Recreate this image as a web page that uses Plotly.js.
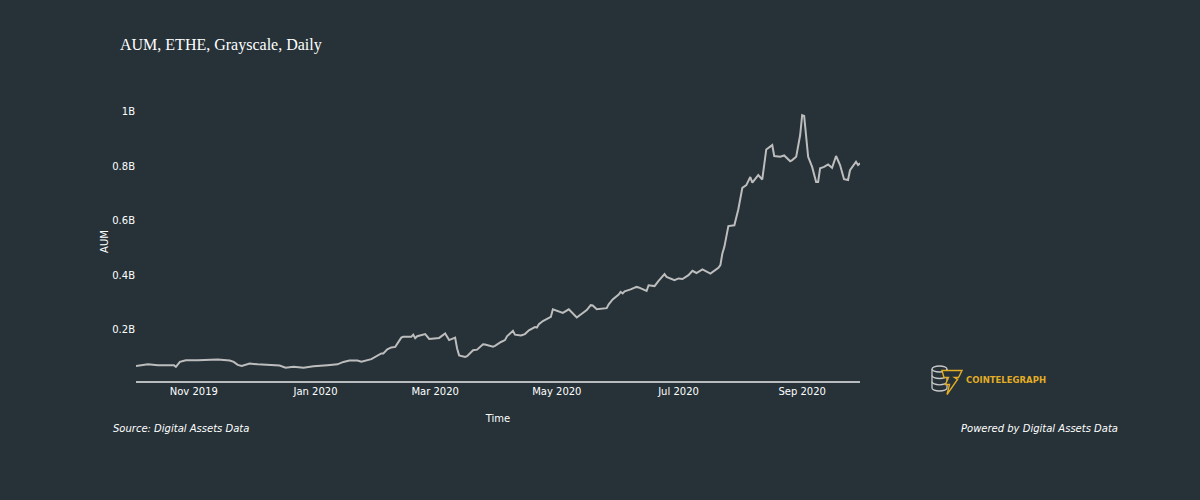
<!DOCTYPE html>
<html>
<head>
<meta charset="utf-8">
<script src="https://cdn.plot.ly/plotly-3.0.1.min.js"></script>
<style>html,body{margin:0;padding:0;background:#263238;}#chart{width:1200px;height:500px;}</style>
</head>
<body>
<div id="chart"></div>
<script>
var dates = [
"2019-10-03","2019-10-09","2019-10-14","2019-10-19","2019-10-22","2019-10-23","2019-10-25","2019-10-28",
"2019-11-03","2019-11-13","2019-11-19","2019-11-21","2019-11-23","2019-11-25","2019-11-29",
"2019-12-03","2019-12-10","2019-12-14","2019-12-17","2019-12-21","2019-12-26","2019-12-31",
"2020-01-07","2020-01-12","2020-01-15","2020-01-18","2020-01-22","2020-01-24","2020-01-29","2020-01-31",
"2020-02-03","2020-02-04","2020-02-06","2020-02-08","2020-02-10","2020-02-13","2020-02-14","2020-02-18",
"2020-02-19","2020-02-20","2020-02-21","2020-02-25","2020-02-27",
"2020-03-03","2020-03-06","2020-03-08","2020-03-11","2020-03-12","2020-03-13","2020-03-16","2020-03-17",
"2020-03-20","2020-03-22","2020-03-25","2020-03-26","2020-03-30","2020-03-31",
"2020-04-03","2020-04-05","2020-04-06","2020-04-09","2020-04-10","2020-04-13","2020-04-15","2020-04-17",
"2020-04-20","2020-04-21","2020-04-22","2020-04-24","2020-04-28","2020-04-29",
"2020-05-04","2020-05-07","2020-05-11","2020-05-12","2020-05-16","2020-05-18","2020-05-19","2020-05-21",
"2020-05-26","2020-05-27","2020-05-29",
"2020-06-01","2020-06-02","2020-06-03","2020-06-04","2020-06-07","2020-06-10","2020-06-11","2020-06-15",
"2020-06-16","2020-06-19","2020-06-21","2020-06-24","2020-06-25","2020-06-29",
"2020-07-01","2020-07-03","2020-07-06","2020-07-08","2020-07-10","2020-07-13","2020-07-17","2020-07-21",
"2020-07-22","2020-07-23","2020-07-24","2020-07-26","2020-07-29","2020-07-31",
"2020-08-02","2020-08-04","2020-08-06","2020-08-07","2020-08-10","2020-08-12","2020-08-14","2020-08-17",
"2020-08-18","2020-08-21","2020-08-23","2020-08-26","2020-08-27","2020-08-29","2020-08-31",
"2020-09-01","2020-09-02","2020-09-04","2020-09-06","2020-09-08","2020-09-09","2020-09-10","2020-09-12",
"2020-09-14","2020-09-16","2020-09-18","2020-09-20","2020-09-22","2020-09-24","2020-09-25","2020-09-28",
"2020-09-29","2020-09-30"
];
var aumBillions = [
0.067,0.073,0.070,0.069,0.070,0.064,0.082,0.088,
0.088,0.091,0.087,0.082,0.071,0.067,0.076,
0.073,0.072,0.069,0.061,0.064,0.061,0.066,
0.070,0.073,0.082,0.087,0.087,0.083,0.092,0.100,
0.113,0.113,0.128,0.135,0.137,0.171,0.174,0.174,
0.182,0.169,0.176,0.184,0.166,
0.170,0.186,0.162,0.171,0.131,0.106,0.100,0.103,
0.125,0.127,0.147,0.146,0.138,0.141,
0.155,0.162,0.176,0.196,0.182,0.179,0.184,0.198,
0.210,0.208,0.220,0.232,0.247,0.275,
0.262,0.275,0.245,0.250,0.272,0.290,0.289,0.275,
0.279,0.293,0.311,
0.329,0.339,0.333,0.341,0.348,0.357,0.355,0.342,
0.363,0.360,0.379,0.404,0.394,0.382,
0.388,0.386,0.400,0.416,0.408,0.421,0.406,0.427,
0.437,0.480,0.504,0.580,0.583,0.642,
0.720,0.730,0.760,0.739,0.767,0.751,0.861,0.877,
0.837,0.834,0.839,0.818,0.822,0.834,0.914,
0.987,0.984,0.834,0.797,0.742,0.742,0.792,0.797,
0.806,0.794,0.837,0.804,0.752,0.749,0.785,0.816,
0.804,0.810
];
var titleText = "AUM, ETHE, Grayscale, Daily";
var xTitle = "Time";
var yTitle = "AUM";
var sourceText = "Source: Digital Assets Data";
var poweredText = "Powered by Digital Assets Data";
var brandText = "COINTELEGRAPH";

var bg = "#263238";
var tickFont = {family: "DejaVu Sans, Verdana, sans-serif", size: 10, color: "#ffffff"};

var logoSvg = '<svg xmlns="http://www.w3.org/2000/svg" viewBox="0 0 32 30" width="32" height="30">' +
  '<g fill="none" stroke="#c8c8c8" stroke-width="1.3">' +
  '<ellipse cx="8.5" cy="4" rx="7.5" ry="3"/>' +
  '<path d="M1 4 V23 A7.5 3 0 0 0 16 23 V4"/>' +
  '<path d="M1 10.5 A7.5 3 0 0 0 16 10.5"/>' +
  '<path d="M1 16.8 A7.5 3 0 0 0 16 16.8"/>' +
  '</g>' +
  '<path d="M11 5.5 L31 5.5 L27.5 12.5 L23.5 12.5 L26.5 14.5 L16 29.5 L18.5 19.5 L14.5 19.5 L17.5 12.5 L13 12.5 Z" fill="' + bg + '" stroke="#e3ac25" stroke-width="1.4" stroke-linejoin="miter"/>' +
  '</svg>';
var logoSrc = "data:image/svg+xml;base64," + btoa(logoSvg);

var plotL = 136, plotR = 860, plotT = 102, plotB = 381;
var pw = plotR - plotL, ph = plotB - plotT;
function px(x) { return (x - plotL) / pw; }
function py(y) { return (plotB - y) / ph; }

var trace = {
  x: dates,
  y: aumBillions,
  type: "scatter",
  mode: "lines",
  line: {color: "#bdbdbd", width: 2},
  hoverinfo: "x+y"
};

var layout = {
  width: 1200,
  height: 500,
  paper_bgcolor: bg,
  plot_bgcolor: bg,
  margin: {l: plotL, r: 1200 - plotR, t: plotT, b: 500 - plotB, pad: 0},
  showlegend: false,
  font: tickFont,
  title: {
    text: titleText,
    x: 120 / 1200, xref: "container", xanchor: "left",
    y: 1 - 44 / 500, yref: "container", yanchor: "middle",
    font: {family: "Liberation Serif, Times New Roman, serif", size: 16, color: "#ffffff"}
  },
  xaxis: {
    type: "date",
    range: ["2019-10-03", "2020-09-30"],
    tick0: "2019-11-01",
    dtick: "M2",
    tickformat: "%b %Y",
    showgrid: false,
    zeroline: false,
    showline: true,
    linecolor: "#b9bcbe",
    linewidth: 1.5,
    ticks: "",
    tickfont: tickFont,
    title: {text: xTitle, font: tickFont, standoff: 19}
  },
  yaxis: {
    range: [0.012, 1.035],
    tick0: 0,
    dtick: 0.2,
    ticksuffix: "B",
    showgrid: false,
    zeroline: false,
    showline: false,
    ticks: "",
    tickfont: tickFont,
    title: {text: yTitle, font: tickFont, standoff: 1}
  },
  images: [{
    source: logoSrc,
    xref: "paper", yref: "paper",
    x: px(931), y: py(365),
    sizex: 32 / pw, sizey: 30 / ph,
    xanchor: "left", yanchor: "top",
    sizing: "stretch", layer: "above"
  }],
  annotations: [
    {text: sourceText, xref: "paper", yref: "paper", x: px(111), y: py(428),
     xanchor: "left", yanchor: "middle", showarrow: false,
     font: {family: "DejaVu Sans, Verdana, sans-serif", size: 10, color: "#ffffff", style: "italic"}},
    {text: poweredText, xref: "paper", yref: "paper", x: px(1120), y: py(428),
     xanchor: "right", yanchor: "middle", showarrow: false,
     font: {family: "DejaVu Sans, Verdana, sans-serif", size: 10, color: "#ffffff", style: "italic"}},
    {text: "<b>" + brandText + "</b>", xref: "paper", yref: "paper", x: px(964), y: py(380),
     xanchor: "left", yanchor: "middle", showarrow: false,
     font: {family: "DejaVu Sans, Verdana, sans-serif", size: 8.5, color: "#e3ac25"}}
  ]
};

Plotly.newPlot("chart", [trace], layout, {displayModeBar: false, staticPlot: true});
</script>
</body>
</html>
